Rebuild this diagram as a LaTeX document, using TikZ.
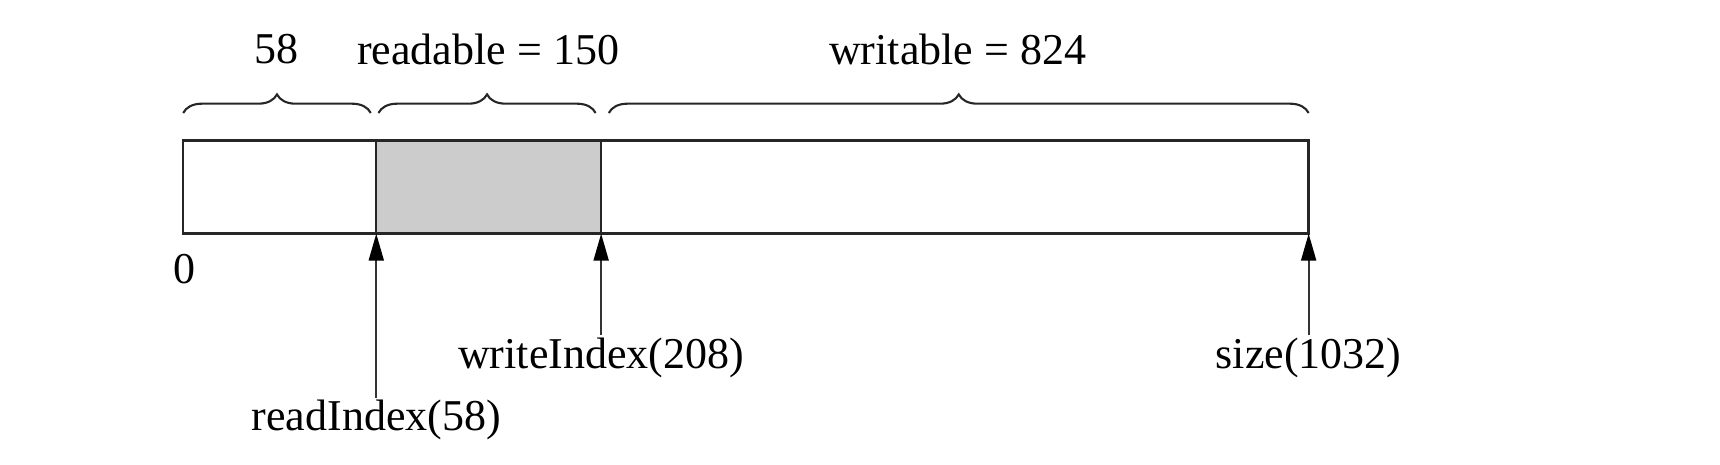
\documentclass[tikz,border=0pt]{standalone}
\usepackage{fontspec}
\setmainfont{Liberation Serif}
\usetikzlibrary{arrows.meta,decorations.pathreplacing}
\begin{document}
\begin{tikzpicture}[x=1.09694pt,y=-1.09694pt,
  seg/.style={draw=black!85,line width=2.4pt,inner sep=0pt,outer sep=0pt,minimum height=93.2pt},
  lbl/.style={font=\fontsize{44}{48}\selectfont,inner sep=2pt},
  ptr/.style={draw=black!80,line width=1.9pt,-{Triangle[length=27pt,width=15pt,color=black]}},
  brc/.style={draw=black!85,line width=2.1pt,decorate,decoration={brace,amplitude=18.6pt}}]
\useasboundingbox (0,0) rectangle (1568,423);
\node[seg,minimum width=224.9pt,fill=black!20] (s2) at (445.5,170.5) {};
\node[seg,minimum width=193.1pt] (s1) at (255,170.5) {};
\node[seg,minimum width=707.5pt] (s3) at (870.5,170.5) {};
\draw[seg] (s2.north west) rectangle (s2.south east);
% braces
\coordinate (b1a) at (167,103); \coordinate (b1b) at (338,103);
\coordinate (b2a) at (345,103); \coordinate (b2b) at (543,103);
\coordinate (b3a) at (555,103); \coordinate (b3b) at (1193,103);
\draw[brc] (b1a) -- (b1b);
\draw[brc] (b2a) -- (b2b);
\draw[brc] (b3a) -- (b3b);
\node[lbl] (t1) at (252,45) {58};
\node[lbl] (t2) at (445,45) {readable = 150};
\node[lbl] (t3) at (873,45) {writable = 824};
\node[lbl] (zero) at (168,245) {0};
% pointers
\node[lbl] (ri) at (343,383) {readIndex(58)};
\node[lbl] (wi) at (548,326) {writeIndex(208)};
\node[lbl] (sz) at (1193,326) {size(1032)};
\draw[ptr] (ri.north -| s1.south east) -- (s1.south east);
\draw[ptr] (wi.north -| s2.south east) -- (s2.south east);
\draw[ptr] (sz.north -| s3.south east) -- (s3.south east);
\end{tikzpicture}
\end{document}
